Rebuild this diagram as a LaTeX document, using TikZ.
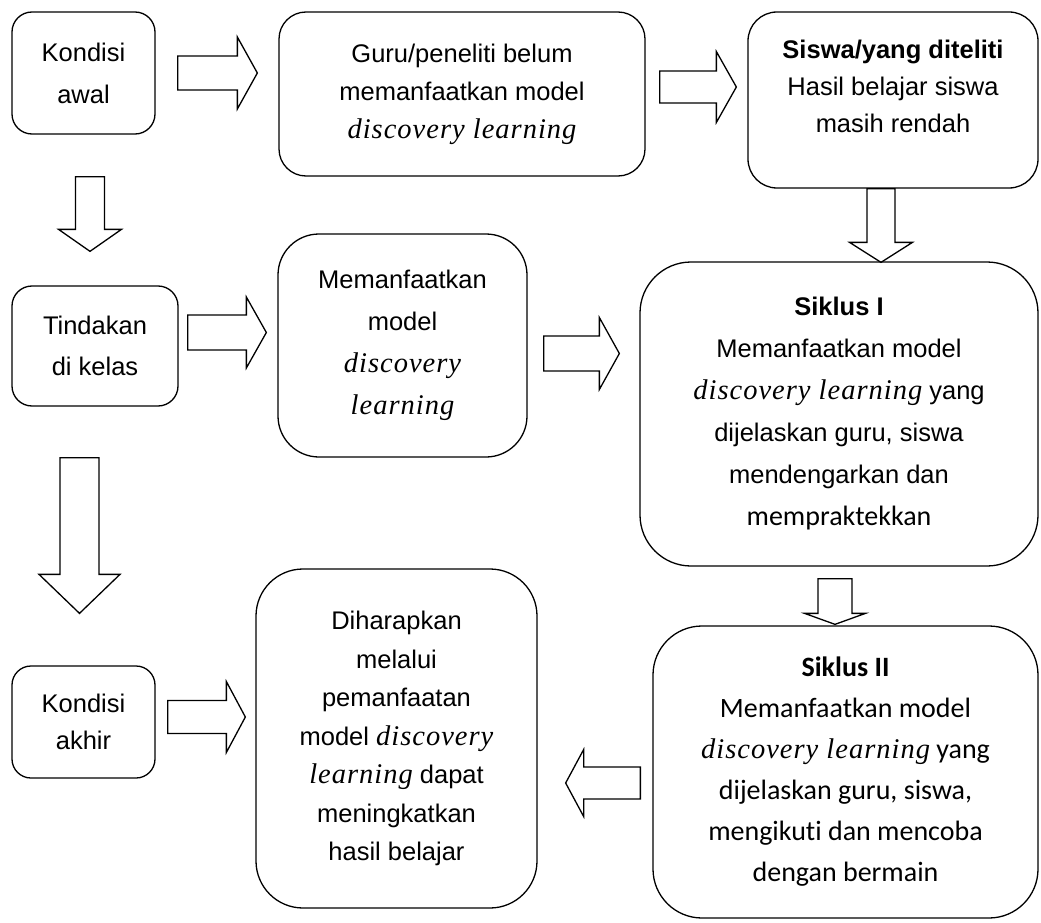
\documentclass[tikz,border=0pt]{standalone}
\usepackage{fontspec}
\setmainfont{Liberation Sans}
\newfontfamily\timesfont[LetterSpace=3.5]{Liberation Serif}
\newfontfamily\carlitofont[Ligatures=NoCommon]{Carlito}
\usetikzlibrary{calc}

\newcommand{\disc}[1]{{\timesfont\itshape\fontsize{28.5}{0}\selectfont #1}}

\tikzset{
  box/.style={draw, line width=1.3pt, align=center, inner sep=0pt},
  fat/.style={draw, line width=1.3pt, line join=miter},
  % block arrow: shaft half width, head half width, head length
  fatarrow/.style n args={3}{to path={
    let \p1=(\tikztostart), \p2=(\tikztotarget),
        \n1={veclen(\x2-\x1,\y2-\y1)},
        \n2={(\x2-\x1)/\n1}, \n3={(\y2-\y1)/\n1} in
    ({\x1-#1*(\n3)},{\y1+#1*(\n2)})
    -- ({\x1+(\n1-#3)*(\n2)-#1*(\n3)},{\y1+(\n1-#3)*(\n3)+#1*(\n2)})
    -- ({\x1+(\n1-#3)*(\n2)-#2*(\n3)},{\y1+(\n1-#3)*(\n3)+#2*(\n2)})
    -- (\p2)
    -- ({\x1+(\n1-#3)*(\n2)+#2*(\n3)},{\y1+(\n1-#3)*(\n3)-#2*(\n2)})
    -- ({\x1+(\n1-#3)*(\n2)+#1*(\n3)},{\y1+(\n1-#3)*(\n3)-#1*(\n2)})
    -- ({\x1+#1*(\n3)},{\y1-#1*(\n2)}) -- cycle}}
}

\begin{document}
\begin{tikzpicture}[x=1pt,y=-1pt]
\useasboundingbox (0,0) rectangle (1041,923);

\node[box, minimum width=143, minimum height=122, rounded corners=20,
  font=\fontsize{25.5}{42}\selectfont] (awal) at (83.5,73) {Kondisi\\awal};
\node[box, minimum width=366, minimum height=164, rounded corners=27,
  font=\fontsize{25.5}{38}\selectfont] (guru) at (462,94)
  {Guru/peneliti belum\\memanfaatkan model\\\disc{discovery learning}};
\node[box, minimum width=290, minimum height=176, rounded corners=29] (siswa) at (893,100) {};
\node[align=center, inner sep=0pt, font=\fontsize{25.5}{37}\selectfont] (siswatxt)
  at ([yshift=13.5]siswa.center)
  {\textbf{Siswa/yang diteliti}\\Hasil belajar siswa\\masih rendah};

\node[box, minimum width=166, minimum height=120, rounded corners=20,
  font=\fontsize{25.5}{41}\selectfont] (tindakan) at (95,346) {Tindakan\\di kelas};
\node[box, minimum width=249, minimum height=223, rounded corners=41,
  font=\fontsize{25.5}{42}\selectfont] (memanf) at (402.5,345.5)
  {Memanfaatkan\\model\\\disc{discovery}\\\disc{learning}};
\node[box, minimum width=398, minimum height=304, rounded corners=51,
  font=\fontsize{25.5}{42}\selectfont] (s1) at (839,414)
  {\textbf{Siklus I}\\Memanfaatkan model\\\disc{discovery learning} yang\\dijelaskan guru, siswa\\mendengarkan dan\\{\carlitofont\fontsize{28}{0}\selectfont mempraktekkan}};

\node[box, minimum width=143, minimum height=112, rounded corners=19,
  font=\fontsize{25.5}{37}\selectfont] (akhir) at (83.5,722) {Kondisi\\akhir};
\node[box, minimum width=281, minimum height=339, rounded corners=47,
  font=\fontsize{25.5}{38.5}\selectfont] (harap) at (396.5,738.5)
  {Diharapkan\\melalui\\pemanfaatan\\model \disc{discovery}\\\disc{learning} dapat\\meningkatkan\\hasil belajar};
\node[box, minimum width=385, minimum height=292, rounded corners=49,
  font=\carlitofont\fontsize{28}{41}\selectfont] (s2) at (845.5,772)
  {\textbf{Siklus II}\\Memanfaatkan model\\\disc{discovery learning} yang\\dijelaskan guru, siswa,\\mengikuti dan mencoba\\dengan bermain};

\path[fat, fatarrow={17}{36}{20}] ($(awal.east)+(22,0)$) to ($(awal.east -| guru.west)+(-21,0)$);
\path[fat, fatarrow={16}{35.5}{20}] ($(guru.east)+(14,-7)$) to ($(guru.east -| siswa.west)+(-11,-7)$);
\path[fat, fatarrow={14}{31.5}{20}] ($(siswa.south)+(-12,0)$) to ($(siswa.south |- s1.north)+(-12,1)$);
\path[fat, fatarrow={14.5}{31.5}{22}] ($(awal.south)+(6.5,42)$) to ($(awal.south |- tindakan.north)+(6.5,-34)$);
\path[fat, fatarrow={17.5}{35.5}{20}] ($(tindakan.east)+(9,-13.5)$) to ($(tindakan.east -| memanf.west)+(-11,-13.5)$);
\path[fat, fatarrow={17.5}{36}{20}] ($(memanf.east)+(16,8)$) to ($(memanf.east -| s1.west)+(-20,8)$);
\path[fat, fatarrow={19.5}{40.5}{39}] ($(tindakan.south)+(-15.5,51)$) to ($(tindakan.south |- akhir.north)+(-15.5,-52)$);
\path[fat, fatarrow={17}{30.5}{11}] ($(s1.south)+(-4,12)$) to ($(s1.south |- s2.north)+(-4,-1)$);
\path[fat, fatarrow={16.5}{35.5}{19}] ($(akhir.east)+(12,-5)$) to ($(akhir.east -| harap.west)+(-10,-5)$);
\path[fat, fatarrow={16}{33.5}{18}] ($(s2.west)+(-12,11)$) to ($(s2.west -| harap.east)+(28,11)$);
\end{tikzpicture}
\end{document}
